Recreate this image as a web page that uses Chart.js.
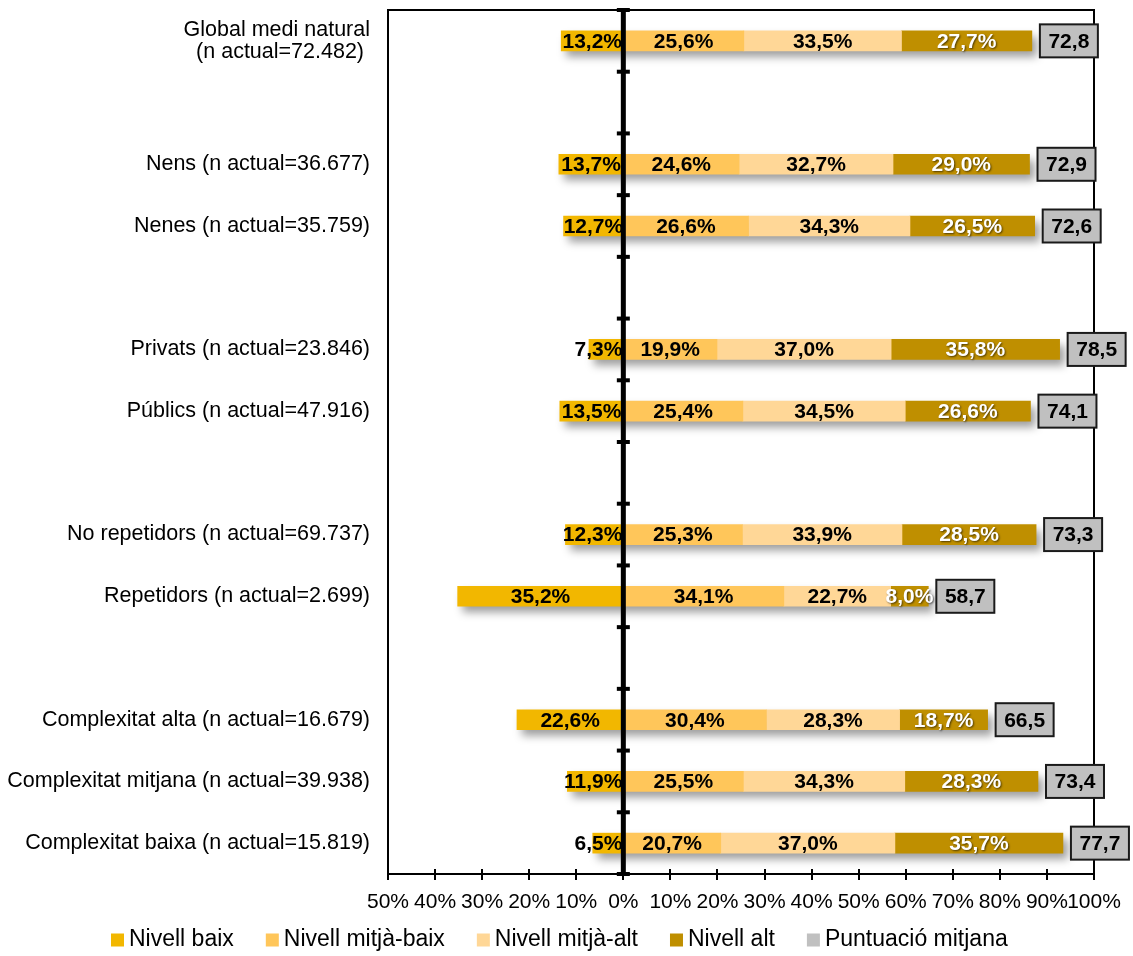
<!DOCTYPE html>
<html>
<head>
<meta charset="utf-8">
<script src="https://cdn.jsdelivr.net/npm/chart.js@4.4.1/dist/chart.umd.min.js"></script>
<style>
  html, body { margin: 0; padding: 0; background: #fff; }
  #wrap { width: 1133px; height: 956px; position: relative; }
</style>
</head>
<body>
<div id="wrap"><canvas id="chart"></canvas></div>
<script>
// rows (blank strings are the gaps between groups)
const categories = [
  ['Global medi natural', '(n actual=72.482) '],
  '',
  'Nens (n actual=36.677)',
  'Nenes (n actual=35.759)',
  '',
  'Privats (n actual=23.846)',
  'Públics (n actual=47.916)',
  '',
  'No repetidors (n actual=69.737)',
  'Repetidors (n actual=2.699)',
  '',
  'Complexitat alta (n actual=16.679)',
  'Complexitat mitjana (n actual=39.938)',
  'Complexitat baixa (n actual=15.819)'
];

const nivellBaix      = [13.2, null, 13.7, 12.7, null, 7.3, 13.5, null, 12.3, 35.2, null, 22.6, 11.9, 6.5];
const nivellMitjaBaix = [25.6, null, 24.6, 26.6, null, 19.9, 25.4, null, 25.3, 34.1, null, 30.4, 25.5, 20.7];
const nivellMitjaAlt  = [33.5, null, 32.7, 34.3, null, 37.0, 34.5, null, 33.9, 22.7, null, 28.3, 34.3, 37.0];
const nivellAlt       = [27.7, null, 29.0, 26.5, null, 35.8, 26.6, null, 28.5, 8.0, null, 18.7, 28.3, 35.7];
const puntuacio       = [72.8, null, 72.9, 72.6, null, 78.5, 74.1, null, 73.3, 58.7, null, 66.5, 73.4, 77.7];

const xMin = -50, xMax = 100, xStep = 10;
const scoreLabel = 'Puntuació mitjana';
const scoreColor = '#C0C0C0';

const FONT = "'Liberation Sans', Arial, sans-serif";
Chart.defaults.font.family = FONT;
Chart.defaults.color = '#000';

const pct = v => Math.abs(v).toFixed(1).replace('.', ',') + '%';

// shadows, frame, zero line, data labels, score boxes and legend
const decor = {
  id: 'decor',
  beforeDatasetsDraw(chart) {
    const {ctx, scales: {x, y}} = chart;
    ctx.save();
    ctx.filter = 'blur(4px)';
    ctx.fillStyle = 'rgba(0,0,0,0.38)';
    categories.forEach((c, i) => {
      if (nivellBaix[i] == null) return;
      const pos = nivellMitjaBaix[i] + nivellMitjaAlt[i] + nivellAlt[i];
      const x0 = x.getPixelForValue(-nivellBaix[i]);
      const x1 = x.getPixelForValue(pos);
      const yc = y.getPixelForValue(i);
      ctx.fillRect(x0 + 5, yc - 10 + 6, x1 - x0, 20);
    });
    ctx.restore();
  },
  afterDatasetsDraw(chart) {
    const {ctx, chartArea: a, scales: {x, y}} = chart;
    ctx.save();

    // data labels
    ctx.font = 'bold 21px ' + FONT;
    ctx.textBaseline = 'middle';
    chart.data.datasets.forEach((ds, di) => {
      const meta = chart.getDatasetMeta(di);
      meta.data.forEach((bar, i) => {
        const v = ds.data[i];
        if (v == null) return;
        const txt = pct(v);
        const w = ctx.measureText(txt).width;
        const left = Math.min(bar.x, bar.base), right = Math.max(bar.x, bar.base);
        let cx = (left + right) / 2;
        ctx.textAlign = 'center';
        if (di === 0 && w > right - left) {
          ctx.textAlign = 'right';
          cx = right - 1;
        }
        if (di === 3) {
          ctx.shadowColor = 'rgba(0,0,0,0.6)';
          ctx.shadowOffsetX = 1;
          ctx.shadowOffsetY = 1;
          ctx.shadowBlur = 2;
          ctx.fillStyle = '#fff';
        } else {
          ctx.shadowColor = 'transparent';
          ctx.fillStyle = '#000';
        }
        ctx.fillText(txt, cx, bar.y + 1);
      });
    });
    ctx.shadowColor = 'transparent';

    // plot frame
    ctx.strokeStyle = '#000';
    ctx.lineWidth = 2;
    ctx.strokeRect(a.left, a.top, a.right - a.left, a.bottom - a.top);

    // x axis tick marks crossing the bottom line
    x.ticks.forEach(t => {
      const px = Math.round(x.getPixelForValue(t.value));
      ctx.beginPath();
      ctx.moveTo(px, a.bottom - 5);
      ctx.lineTo(px, a.bottom + 6);
      ctx.stroke();
    });

    // zero line with category tick marks
    const x0 = x.getPixelForValue(0);
    ctx.fillStyle = '#000';
    ctx.fillRect(x0 - 2.5, a.top - 1, 5, a.bottom - a.top + 2);
    for (let i = 0; i <= categories.length; i++) {
      const yb = (y.getPixelForValue(i - 1) + y.getPixelForValue(i)) / 2;
      ctx.fillRect(x0 - 6.5, yb - 2, 13, 4);
    }

    // score boxes (Puntuació mitjana)
    const last = chart.getDatasetMeta(3);
    ctx.font = 'bold 21px ' + FONT;
    ctx.textAlign = 'center';
    puntuacio.forEach((s, i) => {
      if (s == null) return;
      const bar = last.data[i];
      const bx = bar.x + 8, bw = 58, bh = 33;
      const by = bar.y - bh / 2;
      ctx.fillStyle = scoreColor;
      ctx.fillRect(bx, by, bw, bh);
      ctx.strokeStyle = '#1a1a1a';
      ctx.lineWidth = 2;
      ctx.strokeRect(bx, by, bw, bh);
      ctx.fillStyle = '#000';
      ctx.fillText(s.toFixed(1).replace('.', ','), bx + bw / 2, bar.y + 1);
    });

    // legend
    const items = chart.data.datasets.map(d => ({text: d.label, color: d.backgroundColor}));
    items.push({text: scoreLabel, color: scoreColor});
    ctx.font = '23px ' + FONT;
    ctx.textAlign = 'left';
    const box = 13, gap = 5, spacing = 32;
    let lx = 111;
    const ly = 940;
    items.forEach(it => {
      ctx.fillStyle = it.color;
      ctx.fillRect(lx, ly - 6.5, box, box);
      ctx.fillStyle = '#000';
      ctx.fillText(it.text, lx + box + gap, ly);
      lx += box + gap + ctx.measureText(it.text).width + spacing;
    });
    ctx.restore();
  }
};

new Chart(document.getElementById('chart'), {
  type: 'bar',
  data: {
    labels: categories,
    datasets: [
      { label: 'Nivell baix', data: nivellBaix.map(v => v == null ? null : -v), backgroundColor: '#F2B700' },
      { label: 'Nivell mitjà-baix', data: nivellMitjaBaix, backgroundColor: '#FFC65A' },
      { label: 'Nivell mitjà-alt', data: nivellMitjaAlt, backgroundColor: '#FFD797' },
      { label: 'Nivell alt', data: nivellAlt, backgroundColor: '#BF8F00' }
    ]
  },
  options: {
    indexAxis: 'y',
    responsive: true,
    maintainAspectRatio: false,
    animation: false,
    datasets: { bar: { barThickness: 20, borderWidth: 0 } },
    layout: { padding: { top: 10, right: 39, left: 0, bottom: 42 } },
    scales: {
      x: {
        stacked: true,
        min: xMin,
        max: xMax,
        grid: { display: false },
        border: { display: false },
        ticks: {
          stepSize: xStep,
          padding: 8,
          font: { size: 21 },
          color: '#000',
          maxRotation: 0,
          autoSkip: false,
          callback: v => Math.abs(v) + '%'
        },
        afterFit: s => { s.height = 40; s.paddingLeft = 0; s.paddingRight = 0; }
      },
      y: {
        stacked: true,
        grid: { display: false },
        border: { display: false },
        ticks: {
          padding: 10,
          font: { size: 21.5, lineHeight: 1.03 },
          color: '#000',
          autoSkip: false
        },
        afterFit: s => { s.width = 388; s.paddingTop = 0; s.paddingBottom = 0; }
      }
    },
    plugins: {
      tooltip: { enabled: false },
      legend: { display: false }
    }
  },
  plugins: [decor]
});
</script>
</body>
</html>
